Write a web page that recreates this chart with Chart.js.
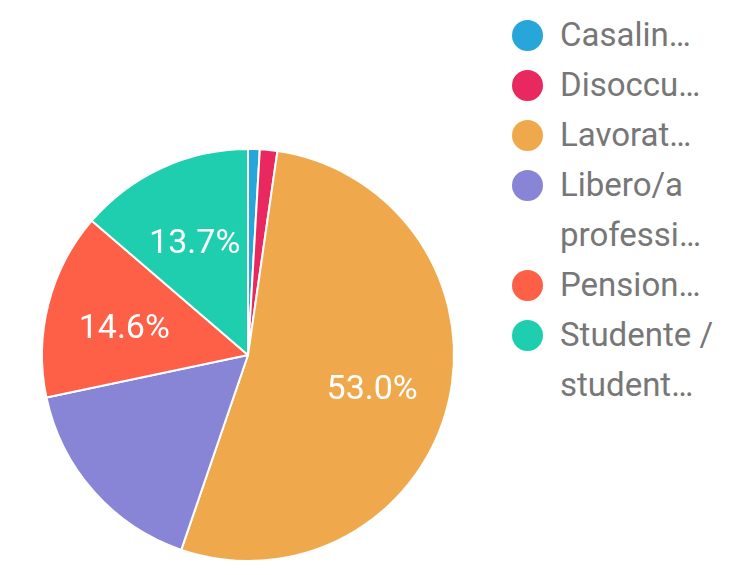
<!DOCTYPE html>
<html>
<head>
  <title>Occupazione</title>
  <script src="https://cdn.jsdelivr.net/npm/chart.js"></script>
  <style>
    body { margin: 0; background: #fff; width: 731px; height: 575px; overflow: hidden; font-family: Roboto, Arial, sans-serif; }
    #wrap { position: absolute; left: 0; top: 0; width: 500px; height: 575px; }
    #legend { position: absolute; left: 512px; top: 10px; margin: 0; padding: 0; list-style: none; }
    #legend li { display: flex; align-items: flex-start; font-size: 33px; line-height: 50px; color: #777; white-space: nowrap; }
    #legend .dot { width: 31px; height: 31px; border-radius: 50%; margin: 10px 17px 0 0; flex: none; }
  </style>
</head>
<body>
  <div id="wrap"><canvas id="pieCanvas"></canvas></div>
  <ul id="legend"></ul>

<script>
  // categories as shown (legend labels are truncated in the original)
  const categories = ["Casalinga", "Disoccupato/a", "Lavoratore/trice", "Libero/a professionista", "Pensionato/a", "Studente / studentessa"];
  const legendLines = [["Casalin…"], ["Disoccu…"], ["Lavorat…"], ["Libero/a", "professi…"], ["Pension…"], ["Studente /", "student…"]];
  // response counts (219 total)
  const counts = [2, 3, 116, 36, 32, 30];
  const colors = ["#27a7d9", "#e8285f", "#efa94c", "#8985d6", "#fd5f47", "#1fcdaf"];
  // only these slices carry a percentage label in the original
  const showPct = [false, false, true, false, true, true];

  const total = counts.reduce((a, b) => a + b, 0);

  const pctLabels = {
    id: "pctLabels",
    afterDatasetsDraw(chart) {
      const ctx = chart.ctx;
      const arcs = chart.getDatasetMeta(0).data;
      ctx.save();
      ctx.fillStyle = "#fff";
      ctx.font = "34px Roboto";
      ctx.textAlign = "center";
      ctx.textBaseline = "middle";
      arcs.forEach((arc, i) => {
        if (!showPct[i]) return;
        const p = arc.getProps(["x", "y", "startAngle", "endAngle", "outerRadius"], true);
        const mid = (p.startAngle + p.endAngle) / 2;
        const r = p.outerRadius * 0.62;
        const txt = (counts[i] / total * 100).toFixed(1) + "%";
        ctx.fillText(txt, p.x + Math.cos(mid) * r, p.y + Math.sin(mid) * r + 6);
      });
      ctx.restore();
    }
  };

  new Chart(document.getElementById("pieCanvas"), {
    type: "pie",
    data: {
      labels: categories,
      datasets: [{
        data: counts,
        backgroundColor: colors,
        borderColor: "#fff",
        borderWidth: 2
      }]
    },
    options: {
      responsive: true,
      maintainAspectRatio: false,
      animation: false,
      layout: { padding: { left: 41, top: 148, right: 45, bottom: 13 } },
      plugins: {
        legend: { display: false },
        tooltip: { enabled: false }
      }
    },
    plugins: [pctLabels]
  });

  // legend built from the same arrays
  const legendEl = document.getElementById("legend");
  legendLines.forEach((lines, i) => {
    const li = document.createElement("li");
    const dot = document.createElement("span");
    dot.className = "dot";
    dot.style.background = colors[i];
    const txt = document.createElement("span");
    txt.innerHTML = lines.join("<br>");
    li.appendChild(dot);
    li.appendChild(txt);
    legendEl.appendChild(li);
  });
</script>
</body>
</html>
